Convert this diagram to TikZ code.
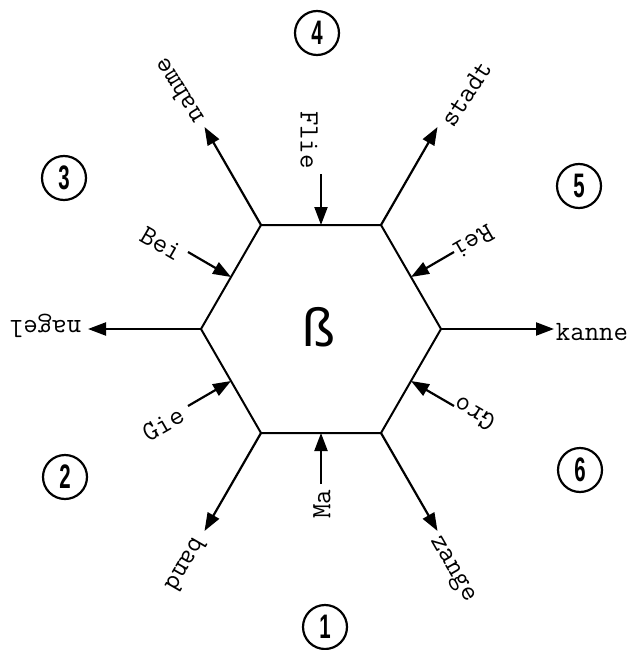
\documentclass[tikz,border=0pt]{standalone}
\usepackage{fontspec}
\usepackage{graphicx}
\setmainfont{Liberation Sans}
\usetikzlibrary{arrows.meta}
\begin{document}
\begin{tikzpicture}[x=1pt,y=-1pt,
  edge/.style={line width=2pt},
  arr/.style={line width=2.2pt,-{Triangle[length=18pt,width=13pt]}},
  lab/.style={inner sep=0pt,font=\ttfamily\fontsize{28}{28}\selectfont},
  num/.style={circle,draw,line width=2.2pt,minimum width=44pt,inner sep=0pt,
    font=\fontsize{34}{34}\selectfont\bfseries}]
\useasboundingbox (0,0) rectangle (632,650);
% hexagon vertices
\coordinate (v0) at (441,329);
\coordinate (v60) at (381,225);
\coordinate (v120) at (261,225);
\coordinate (v180) at (201,329);
\coordinate (v240) at (261,433);
\coordinate (v300) at (381,433);
\draw[edge,line join=miter] (v0) -- (v60) -- (v120) -- (v180) -- (v240) -- (v300) -- cycle;
\node[inner sep=0pt,font=\fontsize{54}{54}\selectfont] (beta) at (319,327) {ß};
% edge midpoints
\coordinate (mt) at (321,225);
\coordinate (mur) at (411,277);
\coordinate (mlr) at (411,381);
\coordinate (mb) at (321,433);
\coordinate (mll) at (231,381);
\coordinate (mul) at (231,277);
% outward tips
\coordinate (t0) at (554,329);
\coordinate (t60) at (437.5,127);
\coordinate (t120) at (204.5,127);
\coordinate (t180) at (88,329);
\coordinate (t240) at (204.5,531);
\coordinate (t300) at (437.5,531);
\draw[arr] (v0) -- (t0);
\draw[arr] (v60) -- (t60);
\draw[arr] (v120) -- (t120);
\draw[arr] (v180) -- (t180);
\draw[arr] (v240) -- (t240);
\draw[arr] (v300) -- (t300);
% inward tails
\coordinate (st) at (321,174);
\coordinate (sur) at (454,252);
\coordinate (slr) at (454,406);
\coordinate (sb) at (321,484);
\coordinate (sll) at (188,406);
\coordinate (sul) at (188,252);
\draw[arr] (st) -- (mt);
\draw[arr] (sur) -- (mur);
\draw[arr] (slr) -- (mlr);
\draw[arr] (sb) -- (mb);
\draw[arr] (sll) -- (mll);
\draw[arr] (sul) -- (mul);
% outward labels
\node[lab,rotate=0] (kanne) at (592,332) {kanne};
\node[lab,rotate=57] (stadt) at (466,94) {stadt};
\node[lab,rotate=122] (nahme) at (178,91) {nahme};
\node[lab,rotate=180] (nagel) at (45,326) {nagel};
\node[lab,rotate=240] (band) at (186,565) {band};
\node[lab,rotate=300] (zange) at (451,570) {zange};
% inward labels
\node[lab,rotate=-90] (flie) at (309,140) {Flie};
\node[lab,rotate=210] (rei) at (473,242) {Rei};
\node[lab,rotate=150] (gro) at (474,414) {Gro};
\node[lab,rotate=90] (ma) at (322,504) {Ma};
\node[lab,rotate=30] (gie) at (163,424) {Gie};
\node[lab,rotate=-30] (bei) at (161,244) {Bei};
% circled numbers
\node[num] (n1) at (325,627) {\scalebox{0.6}[1]{1}};
\node[num] (n2) at (65,477) {\scalebox{0.6}[1]{2}};
\node[num] (n3) at (64,178) {\scalebox{0.6}[1]{3}};
\node[num] (n4) at (317,33) {\scalebox{0.6}[1]{4}};
\node[num] (n5) at (579,186) {\scalebox{0.6}[1]{5}};
\node[num] (n6) at (580,470) {\scalebox{0.6}[1]{6}};
\end{tikzpicture}
\end{document}
